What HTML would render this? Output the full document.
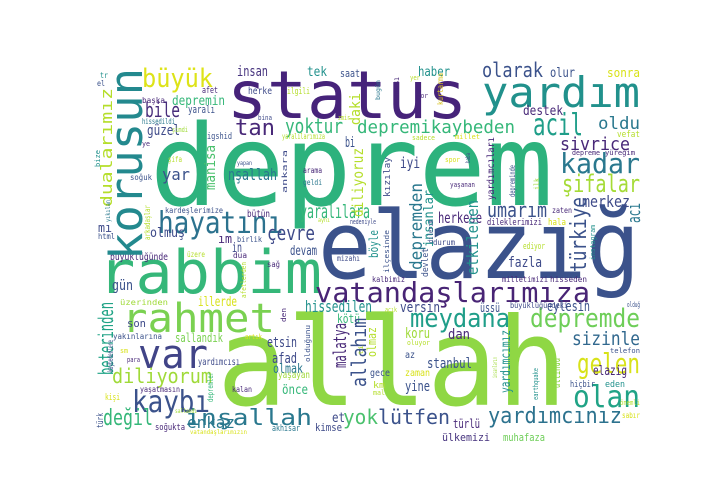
<!DOCTYPE html>
<html><head><meta charset="utf-8">
<style>
html,body{margin:0;padding:0;background:#fff;}
svg{display:block;}
text{font-family:"DejaVu Sans Mono","Liberation Mono",monospace;}
</style></head>
<body>
<svg id="cloud" width="720" height="504" viewBox="0 0 720 504" xmlns="http://www.w3.org/2000/svg">
<rect width="720" height="504" fill="#fff"/>
</svg>
<script>
// horizontal words: [text, xLeft, xRight, baseline, size, color]
const hWords = [
["status",227,467,118,66,"#46237a"],["deprem",150,553,205,112,"#2db27d"],["elazığ",318,640,278,94,"#3b528b"],
["allah",217,567,405,122,"#8fd744"],["rabbim",98,322,293,60,"#35b779"],["rahmet",122,275,332,40,"#7ad151"],
["var",138,208,368,40,"#414487"],["kaybı",132,210,412,30,"#3b528b"],["vatandaşlarımıza",315,590,302,28,"#482475"],
["hayatını",158,283,233,30,"#2c728e"],["yardım",482,640,107,42,"#21918c"],["diliyorum",112,212,383,20,"#a0da39"],
["değil",103,153,425,22,"#35b779"],["inşallah",185,312,425,22,"#2a788e"],["enkaz",187,235,428,16,"#2a788e"],
["meydana",410,510,327,26,"#1f9e89"],["depremde",530,640,327,26,"#6ece58"],["sizinle",572,640,345,19,"#31688e"],
["gelen",577,640,373,28,"#d8e219"],["olan",573,640,407,30,"#20a386"],["yardımcınız",488,622,423,22,"#2c728e"],
["lütfen",378,450,424,20,"#3b528b"],["yok",343,378,424,20,"#4ac16d"],["türlü",453,480,428,12,"#482878"],
["ülkemizi",442,490,441,11,"#46337e"],["muhafaza",503,545,441,11,"#6ece58"],["yoktur",285,343,133,20,"#35b779"],
["büyük",142,213,87,26,"#dde318"],["bile",145,180,117,20,"#472d7b"],["depremin",172,225,105,13,"#35b779"],
["insan",237,268,76,14,"#46337e"],["tek",307,327,76,13,"#21918c"],["saat",340,360,77,11,"#3b528b"],
["afet",202,218,93,9,"#482878"],["herke",248,272,94,10,"#3e4a89"],["ilgili",287,310,94,9,"#b5de2b"],
["başka",142,165,103,8,"#482878"],["yaralı",188,215,113,11,"#3b528b"],["tan",235,275,135,22,"#482878"],
["güzel",147,180,135,14,"#3e4a89"],["hissedildi",142,175,124,8,"#2a788e"],["şimdi",172,188,132,7,"#a0da39"],
["igshid",207,232,139,9,"#3b528b"],["yaralılarımıza",282,325,139,8,"#b5de2b"],["bina",258,272,120,7,"#3e4a89"],
["zmir",338,350,120,7,"#b5de2b"],["bi",345,355,147,14,"#3b528b"],["ye",142,150,146,7,"#482878"],
["yar",162,190,180,16,"#3b528b"],["nşallah",228,277,180,16,"#2a788e"],["şifa",168,182,162,8,"#b5de2b"],
["yapan",237,252,165,6,"#3b528b"],["arama",303,322,173,8,"#482878"],["geldi",303,322,185,8,"#2a788e"],
["soğuk",130,152,180,8,"#3b528b"],["yaralılara",300,370,218,19,"#35b779"],["kardeşlerimize",165,223,213,8,"#3b528b"],
["bütün",247,270,217,10,"#482878"],["mı",98,112,232,12,"#3e4a89"],["html",98,115,239,8,"#3b528b"],
["olmuş",150,185,237,13,"#3e4a89"],["çevre",267,315,240,20,"#3e4a89"],["ım",218,232,243,12,"#482878"],
["birlik",237,262,242,8,"#3b528b"],["in",232,242,252,13,"#3e4a89"],["devam",290,317,255,13,"#3b528b"],
["büyüklüğünde",110,168,260,10,"#482878"],["üzere",187,205,257,8,"#b5de2b"],["dua",233,247,258,8,"#482878"],
["sağ",267,280,267,8,"#482878"],["mizahı",337,360,261,8,"#3e4a89"],["gün",112,133,290,14,"#3b528b"],
["üzerinden",120,168,305,8,"#a0da39"],["illerde",198,237,306,13,"#d8e219"],["hissedilen",305,372,312,16,"#21918c"],
["son",127,146,327,11,"#3e4a89"],["kötü",337,360,323,12,"#35b779"],["yakınlarına",113,162,339,8,"#3b528b"],
["artık",245,262,339,7,"#d8e219"],["sallandık",175,223,342,12,"#7ad151"],["etsin",267,297,347,14,"#3e4a89"],
["sm",120,128,353,7,"#d8e219"],["para",127,140,362,7,"#482878"],["afad",272,297,363,14,"#3e4a89"],
["yardımcısı",198,240,365,10,"#3e4a89"],["olmak",273,303,373,13,"#2a788e"],["yaşayan",278,310,378,10,"#a0da39"],
["önce",282,308,394,13,"#35b779"],["yaşatmasın",140,180,392,8,"#482878"],["kalan",232,252,392,8,"#482878"],
["kişi",105,120,400,9,"#d8e219"],["et",332,345,422,13,"#3e4a89"],["sallandı",175,197,413,6,"#a0da39"],
["soğukta",155,185,430,9,"#482878"],["vatandaşlarımızın",190,247,434,6,"#d8e219"],["akhisar",272,300,431,9,"#2a788e"],
["kimse",315,342,431,11,"#3e4a89"],["olarak",482,543,77,20,"#3b528b"],["haber",418,450,76,13,"#21918c"],
["olur",550,575,77,13,"#3b528b"],["sonra",607,640,77,12,"#d8e219"],["yer",410,420,80,7,"#b5de2b"],
["zor",417,428,98,7,"#482878"],["destek",523,563,115,13,"#482878"],["acil",533,583,135,30,"#1f9e89"],
["oldu",598,640,129,17,"#2a788e"],["depremikaybeden",357,515,133,18,"#35b779"],["sivrice",560,630,150,18,"#482878"],
["kadar",560,640,173,28,"#2a788e"],["vefat",617,640,137,9,"#b5de2b"],["sadece",412,435,140,7,"#b5de2b"],
["millet",455,480,139,7,"#d8e219"],["spor",445,460,162,7,"#d8e219"],["depreme",572,600,155,7,"#482878"],
["yüreğim",605,635,155,7,"#482878"],["iyi",400,420,168,15,"#3e4a89"],["yaşanan",450,475,187,7,"#482878"],
["şifalar",562,640,192,24,"#a5db36"],["merkez",582,630,207,16,"#3e4a89"],["umarım",487,547,217,20,"#3b528b"],
["herkese",438,482,223,15,"#482878"],["zaten",552,572,213,8,"#482878"],["hala",548,566,225,9,"#d8e219"],
["dileklerimizi",487,542,225,9,"#482878"],["ediyor",523,545,249,9,"#b5de2b"],["durum",433,455,245,8,"#3e4a89"],
["fazla",508,542,267,14,"#3e4a89"],["kalbimiz",372,405,282,8,"#482878"],["milletimizi",502,548,282,8,"#482878"],
["hisseden",550,587,282,8,"#482878"],["versin",400,440,312,14,"#3e4a89"],["eylesin",547,590,311,14,"#3b528b"],
["açık",385,397,312,7,"#b5de2b"],["üssü",480,500,312,12,"#3b528b"],["büyüklüğündeki",510,568,308,8,"#3e4a89"],
["olduğ",627,640,307,7,"#3b528b"],["koru",405,430,338,14,"#a0da39"],["dan",448,470,339,14,"#482878"],
["oluyor",407,430,345,7,"#b5de2b"],["az",405,415,358,10,"#3b528b"],["stanbul",427,472,368,14,"#3b528b"],
["zaman",405,430,376,10,"#d8e219"],["gece",370,390,376,10,"#3b528b"],["elazig",593,627,375,13,"#482878"],
["yine",405,430,391,14,"#3b528b"],["km",373,385,388,9,"#b5de2b"],["mal",373,385,395,7,"#b5de2b"],
["hiçbir",570,595,387,9,"#3b528b"],["eden",605,625,387,9,"#21918c"],["telefon",610,640,353,7,"#3b528b"],
["önemli",620,640,405,7,"#b5de2b"],["sabır",622,640,418,8,"#d8e219"],["el",97,105,86,8,"#3b528b"],
["tr",100,108,78,8,"#21918c"],["nedeniyle",350,376,224,7,"#3e4a89"],["aynı",318,330,222,6,"#b5de2b"]
];
// vertical words: [text, xBaseline, yBottom, yTop, size, color]
const vWords = [
["korusun",142,260,68,45,"#23898e"],["dualarımız",112,207,88,16,"#b5de2b"],["daki",360,125,93,14,"#b5de2b"],
["manisa",215,190,145,14,"#4ac16d"],["ankara",287,193,150,7,"#3e4a89"],["bize",100,167,150,7,"#21918c"],
["diliyoruz",363,217,148,15,"#b5de2b"],["arkadaşlar",150,240,205,8,"#b5de2b"],["yıkılan",110,222,200,6,"#2a788e"],
["afetlerden",246,298,262,7,"#b5de2b"],["beterinden",113,375,302,20,"#20a386"],["den",286,322,308,7,"#482878"],
["kaybedenlere",113,372,340,8,"#3b528b"],["malatya",346,368,323,18,"#482878"],["allahım",366,387,318,20,"#3b528b"],
["olduğunu",310,362,325,7,"#3b528b"],["depremler",213,402,372,8,"#35b779"],["türk",103,428,413,9,"#3b528b"],
["sonrası",399,103,77,8,"#482878"],["bugün",380,100,80,6,"#2a788e"],["kurtarma",443,105,73,8,"#d8c21e"],
["yardımcıları",494,200,137,10,"#482878"],["baba",470,163,153,6,"#3e4a89"],["ilk",539,190,178,7,"#a0da39"],
["kızılay",390,197,157,9,"#3e4a89"],["insanlar",433,247,190,13,"#21918c"],["depremden",422,270,183,17,"#2a788e"],
["depreminde",515,197,165,8,"#3b528b"],["türkiye",586,272,197,22,"#3b528b"],["acı",640,223,203,18,"#2a788e"],
["instagram",595,260,225,7,"#21918c"],["dilerim",433,243,220,7,"#3e4a89"],["etkilenen",478,275,200,16,"#21918c"],
["devlet",428,277,248,9,"#3b528b"],["böyle",378,258,230,12,"#21918c"],["ilçesinde",389,273,230,7,"#3b528b"],
["olmaz",376,357,327,12,"#b5de2b"],["insanların",497,378,357,6,"#a0da39"],["yardımcımız",510,393,330,13,"#21918c"],
["altında",560,388,358,14,"#8fd744"],["earthquake",538,400,368,7,"#21918c"],["ti",363,355,345,6,"#b5de2b"]
];
const NS = "http://www.w3.org/2000/svg";
const svg = document.getElementById("cloud");
function slug(s){ return s.normalize("NFD").replace(/[^\w]/g,"").toLowerCase() || "x"; }
hWords.forEach(w => {
  const t = document.createElementNS(NS, "text");
  t.setAttribute("x", w[1]);
  t.setAttribute("y", w[3]);
  t.setAttribute("font-size", w[4]);
  t.setAttribute("fill", w[5]);
  t.setAttribute("textLength", w[2] - w[1]);
  t.setAttribute("lengthAdjust", "spacingAndGlyphs");
  t.textContent = w[0];
  
  
  svg.appendChild(t);
});
vWords.forEach(w => {
  const t = document.createElementNS(NS, "text");
  t.setAttribute("x", 0);
  t.setAttribute("y", 0);
  t.setAttribute("transform", "translate(" + w[1] + "," + w[2] + ") rotate(-90)");
  t.setAttribute("font-size", w[4]);
  t.setAttribute("fill", w[5]);
  t.setAttribute("textLength", w[2] - w[3]);
  t.setAttribute("lengthAdjust", "spacingAndGlyphs");
  t.textContent = w[0];
  
  
  svg.appendChild(t);
});
</script>
</body></html>
